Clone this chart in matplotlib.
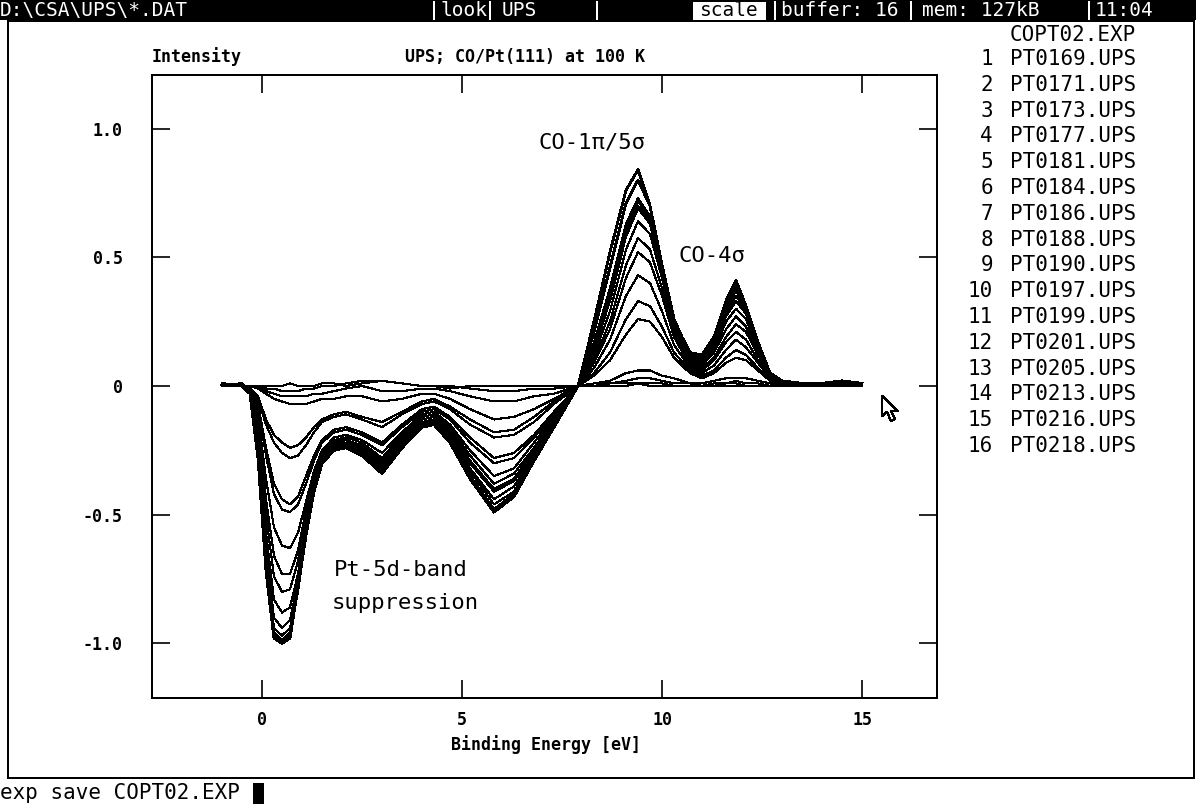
import matplotlib
matplotlib.use('Agg')
import matplotlib.pyplot as plt
from matplotlib.patches import Rectangle, Polygon
from matplotlib.lines import Line2D

W, H = 1196, 805

# binding energy grid [eV] shared by all spectra
energy = [-1.0, -0.5, -0.3, -0.1, 0.1, 0.3, 0.5, 0.7, 0.9, 1.1,
          1.3, 1.5, 1.8, 2.1, 2.5, 3.0, 3.5, 4.0, 4.3, 4.7,
          5.2, 5.8, 6.3, 6.8, 7.3, 7.9, 8.3, 8.7, 9.1, 9.4,
          9.7, 10.0, 10.3, 10.7, 11.0, 11.3, 11.6, 11.85, 12.1, 12.4,
          12.7, 13.0, 13.5, 14.0, 14.5, 15.0]

# difference spectra, lowest to highest CO coverage
curve_01 = [0.0, 0.0, 0.0, 0.0, 0.0, 0.0, 0.0, 0.01, 0.0, 0.0,
            0.0, 0.01, 0.01, 0.0, 0.01, 0.02, 0.01, 0.0, 0.0, -0.01,
            0.0, 0.0, 0.0, 0.0, 0.0, 0.0, 0.0, 0.0, 0.0, 0.01,
            0.0, 0.0, 0.0, 0.0, 0.0, 0.0, 0.0, 0.0, 0.0, 0.0,
            0.0, 0.0, 0.0, 0.0, 0.0, 0.0]
curve_02 = [0.0, 0.0, 0.0, 0.0, -0.01, -0.01, -0.02, -0.02, -0.02, -0.01,
            -0.01, 0.0, 0.0, 0.01, 0.02, 0.02, 0.01, 0.0, 0.0, 0.0,
            -0.01, -0.02, -0.02, -0.01, -0.01, 0.0, 0.0, 0.01, 0.01, 0.01,
            0.01, 0.01, 0.0, 0.0, 0.0, 0.0, 0.01, 0.01, 0.0, 0.0,
            0.0, 0.0, 0.0, 0.0, 0.0, 0.0]
curve_03 = [0.0, 0.0, 0.0, 0.0, -0.02, -0.03, -0.04, -0.04, -0.04, -0.04,
            -0.03, -0.03, -0.02, -0.01, 0.0, -0.02, -0.02, -0.01, -0.01, -0.02,
            -0.04, -0.06, -0.06, -0.04, -0.03, 0.0, 0.01, 0.01, 0.02, 0.03,
            0.03, 0.02, 0.01, 0.01, 0.0, 0.01, 0.01, 0.02, 0.01, 0.01,
            0.0, 0.0, 0.0, 0.0, 0.0, 0.0]
curve_04 = [0.0, 0.0, 0.0, -0.01, -0.03, -0.05, -0.06, -0.07, -0.07, -0.07,
            -0.06, -0.05, -0.05, -0.04, -0.04, -0.06, -0.05, -0.03, -0.03, -0.05,
            -0.09, -0.13, -0.12, -0.09, -0.05, 0.0, 0.01, 0.02, 0.05, 0.06,
            0.06, 0.04, 0.03, 0.01, 0.01, 0.02, 0.03, 0.03, 0.03, 0.02,
            0.01, 0.0, 0.0, 0.0, 0.0, 0.0]
curve_05 = [0.0, 0.0, -0.01, -0.04, -0.13, -0.19, -0.22, -0.24, -0.23, -0.20,
            -0.16, -0.13, -0.11, -0.10, -0.12, -0.14, -0.10, -0.06, -0.05, -0.08,
            -0.13, -0.18, -0.17, -0.12, -0.06, 0.0, 0.04, 0.10, 0.20, 0.26,
            0.25, 0.19, 0.11, 0.05, 0.03, 0.05, 0.09, 0.11, 0.10, 0.06,
            0.02, 0.0, 0.0, 0.0, 0.0, 0.0]
curve_06 = [0.0, 0.0, -0.01, -0.05, -0.15, -0.22, -0.26, -0.28, -0.27, -0.23,
            -0.18, -0.14, -0.12, -0.11, -0.13, -0.16, -0.11, -0.07, -0.06, -0.09,
            -0.15, -0.20, -0.19, -0.14, -0.07, 0.0, 0.05, 0.13, 0.26, 0.33,
            0.31, 0.23, 0.13, 0.06, 0.04, 0.06, 0.11, 0.14, 0.12, 0.07,
            0.02, 0.01, 0.0, 0.0, 0.0, 0.0]
curve_07 = [0.0, 0.0, -0.01, -0.07, -0.24, -0.38, -0.44, -0.46, -0.43, -0.35,
            -0.27, -0.21, -0.17, -0.16, -0.18, -0.22, -0.15, -0.09, -0.08, -0.12,
            -0.20, -0.28, -0.26, -0.19, -0.10, 0.0, 0.07, 0.18, 0.35, 0.43,
            0.40, 0.29, 0.16, 0.07, 0.05, 0.08, 0.14, 0.18, 0.15, 0.09,
            0.03, 0.01, 0.0, 0.0, 0.0, 0.0]
curve_08 = [0.0, 0.0, -0.01, -0.08, -0.27, -0.42, -0.48, -0.49, -0.46, -0.38,
            -0.29, -0.22, -0.18, -0.17, -0.19, -0.23, -0.16, -0.10, -0.09, -0.13,
            -0.22, -0.30, -0.28, -0.20, -0.11, 0.0, 0.09, 0.22, 0.42, 0.52,
            0.48, 0.35, 0.19, 0.08, 0.06, 0.10, 0.17, 0.21, 0.18, 0.10,
            0.03, 0.01, 0.0, 0.0, 0.0, 0.0]
curve_09 = [0.0, 0.0, -0.01, -0.11, -0.36, -0.55, -0.62, -0.63, -0.57, -0.45,
            -0.33, -0.25, -0.20, -0.19, -0.21, -0.26, -0.18, -0.11, -0.10, -0.15,
            -0.25, -0.35, -0.32, -0.22, -0.12, 0.0, 0.10, 0.25, 0.47, 0.575,
            0.53, 0.38, 0.21, 0.09, 0.07, 0.11, 0.19, 0.24, 0.21, 0.12,
            0.04, 0.01, 0.0, 0.0, 0.0, 0.0]
curve_10 = [0.0, 0.0, -0.02, -0.13, -0.44, -0.66, -0.73, -0.73, -0.64, -0.48,
            -0.34, -0.26, -0.21, -0.20, -0.22, -0.28, -0.19, -0.12, -0.11, -0.16,
            -0.27, -0.38, -0.34, -0.24, -0.13, 0.0, 0.12, 0.29, 0.53, 0.64,
            0.59, 0.42, 0.23, 0.10, 0.08, 0.13, 0.22, 0.27, 0.23, 0.13,
            0.04, 0.01, 0.0, 0.0, 0.0, 0.0]
curve_11 = [0.0, 0.0, -0.02, -0.16, -0.50, -0.74, -0.80, -0.79, -0.68, -0.50,
            -0.35, -0.27, -0.21, -0.21, -0.23, -0.29, -0.20, -0.13, -0.12, -0.17,
            -0.29, -0.40, -0.36, -0.25, -0.14, 0.0, 0.14, 0.33, 0.58, 0.69,
            0.63, 0.44, 0.24, 0.10, 0.09, 0.14, 0.25, 0.30, 0.26, 0.14,
            0.04, 0.01, 0.0, 0.0, 0.01, 0.0]
curve_12 = [0.0, 0.0, -0.02, -0.19, -0.57, -0.83, -0.88, -0.86, -0.73, -0.52,
            -0.36, -0.27, -0.22, -0.21, -0.24, -0.30, -0.21, -0.13, -0.12, -0.18,
            -0.30, -0.41, -0.37, -0.26, -0.14, 0.0, 0.15, 0.34, 0.59, 0.70,
            0.64, 0.44, 0.24, 0.11, 0.09, 0.15, 0.27, 0.33, 0.28, 0.15,
            0.05, 0.02, 0.0, 0.01, 0.0, 0.01]
curve_13 = [0.0, 0.0, -0.02, -0.22, -0.64, -0.90, -0.94, -0.91, -0.76, -0.54,
            -0.37, -0.28, -0.22, -0.22, -0.25, -0.31, -0.22, -0.14, -0.13, -0.19,
            -0.32, -0.44, -0.39, -0.27, -0.15, 0.0, 0.16, 0.36, 0.61, 0.72,
            0.65, 0.45, 0.25, 0.11, 0.10, 0.16, 0.28, 0.35, 0.29, 0.16,
            0.05, 0.02, 0.0, 0.01, 0.01, 0.0]
curve_14 = [0.0, 0.01, -0.02, -0.24, -0.68, -0.94, -0.97, -0.94, -0.78, -0.55,
            -0.38, -0.28, -0.23, -0.22, -0.25, -0.32, -0.22, -0.15, -0.14, -0.20,
            -0.33, -0.46, -0.41, -0.28, -0.16, 0.0, 0.17, 0.38, 0.63, 0.73,
            0.66, 0.46, 0.26, 0.12, 0.10, 0.17, 0.30, 0.37, 0.30, 0.17,
            0.05, 0.02, 0.01, 0.01, 0.01, 0.0]
curve_15 = [0.01, 0.0, -0.03, -0.26, -0.70, -0.96, -0.99, -0.96, -0.79, -0.57,
            -0.40, -0.29, -0.24, -0.23, -0.26, -0.33, -0.23, -0.15, -0.14, -0.21,
            -0.35, -0.48, -0.42, -0.28, -0.16, 0.0, 0.21, 0.46, 0.71, 0.80,
            0.70, 0.47, 0.26, 0.12, 0.11, 0.18, 0.32, 0.39, 0.31, 0.17,
            0.05, 0.02, 0.01, 0.0, 0.02, 0.01]
curve_16 = [0.0, 0.01, -0.03, -0.28, -0.72, -0.98, -1.00, -0.98, -0.78, -0.58,
            -0.41, -0.30, -0.25, -0.24, -0.27, -0.34, -0.24, -0.16, -0.15, -0.22,
            -0.36, -0.49, -0.43, -0.29, -0.16, 0.0, 0.25, 0.52, 0.76, 0.84,
            0.70, 0.47, 0.25, 0.13, 0.12, 0.19, 0.33, 0.41, 0.31, 0.17,
            0.05, 0.02, 0.0, 0.01, 0.02, 0.01]

curves = [curve_01, curve_02, curve_03, curve_04, curve_05, curve_06, curve_07, curve_08,
          curve_09, curve_10, curve_11, curve_12, curve_13, curve_14, curve_15, curve_16]

file_names = ['PT0169.UPS', 'PT0171.UPS', 'PT0173.UPS', 'PT0177.UPS', 'PT0181.UPS',
              'PT0184.UPS', 'PT0186.UPS', 'PT0188.UPS', 'PT0190.UPS', 'PT0197.UPS',
              'PT0199.UPS', 'PT0201.UPS', 'PT0205.UPS', 'PT0213.UPS', 'PT0216.UPS',
              'PT0218.UPS']

x_ticks = [0, 5, 10, 15]
y_ticks = [-1.0, -0.5, 0, 0.5, 1.0]
y_tick_labels = ['-1.0', '-0.5', '0', '0.5', '1.0']

plt.rcParams['font.family'] = ['DejaVu Sans Mono', 'DejaVu Sans']
plt.rcParams['lines.antialiased'] = False
plt.rcParams['patch.antialiased'] = False

def fx(x):
    return x / W

def fy(y):
    return 1 - y / H

fig = plt.figure(figsize=(W / 100, H / 100), dpi=100)
fig.patch.set_facecolor('white')

# --- menu bar on top
fig.patches.append(Rectangle((0, fy(20)), 1, 20 / H, transform=fig.transFigure,
                             facecolor='black', edgecolor='none'))
fig.patches.append(Rectangle((fx(693), fy(20)), 73 / W, 18 / H, transform=fig.transFigure,
                             facecolor='white', edgecolor='none'))
for bx in [434, 490, 597, 775, 911, 1089]:
    fig.add_artist(Line2D([fx(bx), fx(bx)], [fy(19), fy(2)], transform=fig.transFigure,
                          color='white', lw=1.2))
bar_font = dict(fontsize=14, va='center', ha='left')
fig.text(fx(0), fy(11), 'D:\\CSA\\UPS\\*.DAT', color='white', **bar_font)
fig.text(fx(440), fy(11), 'look', color='white', **bar_font)
fig.text(fx(502), fy(11), 'UPS', color='white', **bar_font)
fig.text(fx(700), fy(11), 'scale', color='black', **bar_font)
fig.text(fx(781), fy(11), 'buffer: 16', color='white', **bar_font)
fig.text(fx(922), fy(11), 'mem: 127kB', color='white', **bar_font)
fig.text(fx(1095), fy(11), '11:04', color='white', **bar_font)

# --- window frame and command line
fig.patches.append(Rectangle((fx(8), fy(778)), (1194 - 8) / W, (778 - 21) / H,
                             transform=fig.transFigure, fill=False, edgecolor='black', lw=1.2))
fig.text(fx(0), fy(793), 'exp save COPT02.EXP', fontsize=15, va='center', ha='left')
fig.patches.append(Rectangle((fx(253), fy(804)), 11 / W, 21 / H, transform=fig.transFigure,
                             facecolor='black', edgecolor='none'))

# --- plot
ax = fig.add_axes([fx(152), fy(698), (937 - 152) / W, (698 - 75) / H])
for i, c in enumerate(curves):
    lw = 1.3 if i >= 14 else 0.8
    ax.plot(energy, c, color='black', lw=lw)

ax.set_xlim(-2.75, 16.875)
ax.set_ylim(-1.212, 1.208)
ax.set_xticks(x_ticks)
ax.set_xticklabels([str(t) for t in x_ticks])
ax.set_yticks(y_ticks)
ax.set_yticklabels(y_tick_labels)
ax.tick_params(direction='in', length=13, width=1.2, top=True, right=True,
               labelsize=12)
ax.tick_params(axis='y', pad=21)
ax.tick_params(axis='x', pad=9)
for lab in ax.get_xticklabels() + ax.get_yticklabels():
    lab.set_fontweight('bold')
for sp in ax.spines.values():
    sp.set_linewidth(1.2)

fig.text(fx(152), fy(57), 'Intensity', fontsize=12, fontweight='bold', va='center', ha='left')
fig.text(fx(405), fy(57), 'UPS; CO/Pt(111) at 100 K', fontsize=12, fontweight='bold',
         va='center', ha='left')
fig.text(fx(546), fy(745), 'Binding Energy [eV]', fontsize=12, fontweight='bold',
         va='center', ha='center')

ax.text(8.25, 0.944, 'CO-1\u03c0/5\u03c3', fontsize=16, ha='center', va='center')
ax.text(11.25, 0.505, 'CO-4\u03c3', fontsize=16, ha='center', va='center')
ax.text(1.8, -0.715, 'Pt-5d-band', fontsize=16, ha='left', va='center')
ax.text(1.75, -0.843, 'suppression', fontsize=16, ha='left', va='center')

# --- file list on the right
fig.text(fx(1010), fy(35), 'COPT02.EXP', fontsize=15, va='center', ha='left')
for i, name in enumerate(file_names):
    yy = 59 + i * 25.8
    fig.text(fx(993), fy(yy), str(i + 1), fontsize=15, va='center', ha='right')
    fig.text(fx(1010), fy(yy), name, fontsize=15, va='center', ha='left')

# --- mouse pointer
arrow = [(882, 396), (882, 416), (887, 412), (891, 421), (895, 419), (891, 411), (898, 411)]
fig.patches.append(Polygon([(fx(a), fy(b)) for a, b in arrow], closed=True,
                           transform=fig.transFigure, facecolor='white',
                           edgecolor='black', lw=1))

fig.savefig('out.png', dpi=100)
